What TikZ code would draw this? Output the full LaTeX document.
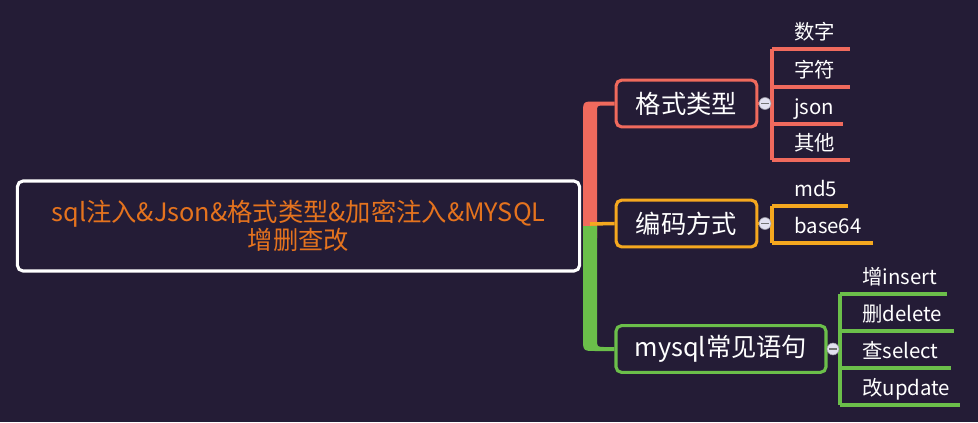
\documentclass[tikz,border=0pt]{standalone}
\usepackage{fontspec}
\setmainfont{Noto Sans CJK SC}
\usetikzlibrary{calc}
\definecolor{mapbg}{rgb}{0.141,0.110,0.212}
\definecolor{mapcoral}{rgb}{0.941,0.416,0.365}
\definecolor{maporange}{rgb}{0.961,0.659,0.122}
\definecolor{mapgreen}{rgb}{0.420,0.749,0.290}
\definecolor{maptitle}{rgb}{0.898,0.451,0.118}
\definecolor{mapknob}{rgb}{0.886,0.882,0.941}
\begin{document}
\begin{tikzpicture}[x=0.025cm,y=-0.025cm,
  rootbox/.style={draw=white,line width=2.2pt,rounded corners=4pt,minimum width=14.05cm,minimum height=2.25cm,
    text=maptitle,align=center,font=\fontsize{18}{19}\selectfont},
  branchbox/.style={draw=#1,line width=2.2pt,rounded corners=4pt,minimum height=1.17cm,text=white,
    font=\fontsize{18}{22}\selectfont},
  leaf/.style={anchor=base west,inner sep=0pt,text=white,font=\fontsize{14.5}{17}\selectfont},
  twig/.style={draw=#1,line width=2.5pt},
  knob/.style={circle,fill=mapknob,draw=mapknob!70!black,line width=0.4pt,minimum size=8.5pt,inner sep=0pt,
    path picture={\draw[black!55,line width=1pt] ([xshift=-2.5pt]path picture bounding box.center) -- ([xshift=2.5pt]path picture bounding box.center);}}]
\path[use as bounding box,fill=mapbg] (0,0) rectangle (978,422);
\node[rootbox] (root) at (298.5,226) {sql注入\&Json\&格式类型\&加密注入\&MYSQL\\增删查改};
\node[branchbox=mapcoral,minimum width=3.52cm] (fmt) at (686.5,103.5) {格式类型};
\node[branchbox=maporange,minimum width=3.52cm] (enc) at (686.5,223.5) {编码方式};
\node[branchbox=mapgreen,minimum width=5.25cm] (sql) at (721,349) {mysql常见语句};
\coordinate (hub) at (590,224);
\fill[mapcoral] (583,238) -- (583,114) .. controls (583,101.5) .. (595,101.5) -- ($(fmt.west)+(0,-2)$)
  -- ($(fmt.west)+(0,2)$) -- (604,105.5) .. controls (597,105.5) .. (597,112) -- (597,238) -- cycle;
\fill[mapgreen] (583,226) -- (583,338) .. controls (583,351) .. (596,351) -- ($(sql.west)+(0,2)$)
  -- ($(sql.west)+(0,-2)$) -- (605,347) .. controls (597,347) .. (597,339) -- (597,226) -- cycle;
\draw[twig=maporange] (hub) -- (enc.west);
\coordinate (fmtbar) at (772,103.5);
\coordinate (encbar) at (772,223.5);
\coordinate (sqlbar) at (840,349);
\draw[twig=mapcoral] (fmt.east) -- (fmtbar);
\draw[twig=maporange] (enc.east) -- (encbar);
\draw[twig=mapgreen] (sql.east) -- (sqlbar);
\draw[twig=mapcoral] (fmtbar |- 0,49) -- (fmtbar |- 0,160);
\draw[twig=maporange] (encbar |- 0,206) -- (encbar |- 0,243);
\draw[twig=mapgreen] (sqlbar |- 0,294) -- (sqlbar |- 0,405);
\foreach \t/\y/\e [count=\i] in {数字/49/850,字符/87/850,json/124/843,其他/160/850}{
  \node[leaf] (fmtleaf\i) at (794,\y-10) {\t};
  \draw[twig=mapcoral] (fmtbar |- 0,\y) -- (\e,\y);
}
\foreach \t/\y/\e [count=\i] in {md5/206/848,base64/243/873}{
  \node[leaf] (encleaf\i) at (794,\y-10) {\t};
  \draw[twig=maporange] (encbar |- 0,\y) -- (\e,\y);
}
\foreach \t/\y/\e [count=\i] in {增insert/294/947,删delete/331/954,查select/368/951,改update/405/960}{
  \node[leaf] (sqlleaf\i) at (862,\y-10) {\t};
  \draw[twig=mapgreen] (sqlbar |- 0,\y) -- (\e,\y);
}
\node[knob] (fmtknob) at (765,103.5) {};
\node[knob] (encknob) at (765,223.5) {};
\node[knob] (sqlknob) at (833,349) {};
\end{tikzpicture}
\end{document}
